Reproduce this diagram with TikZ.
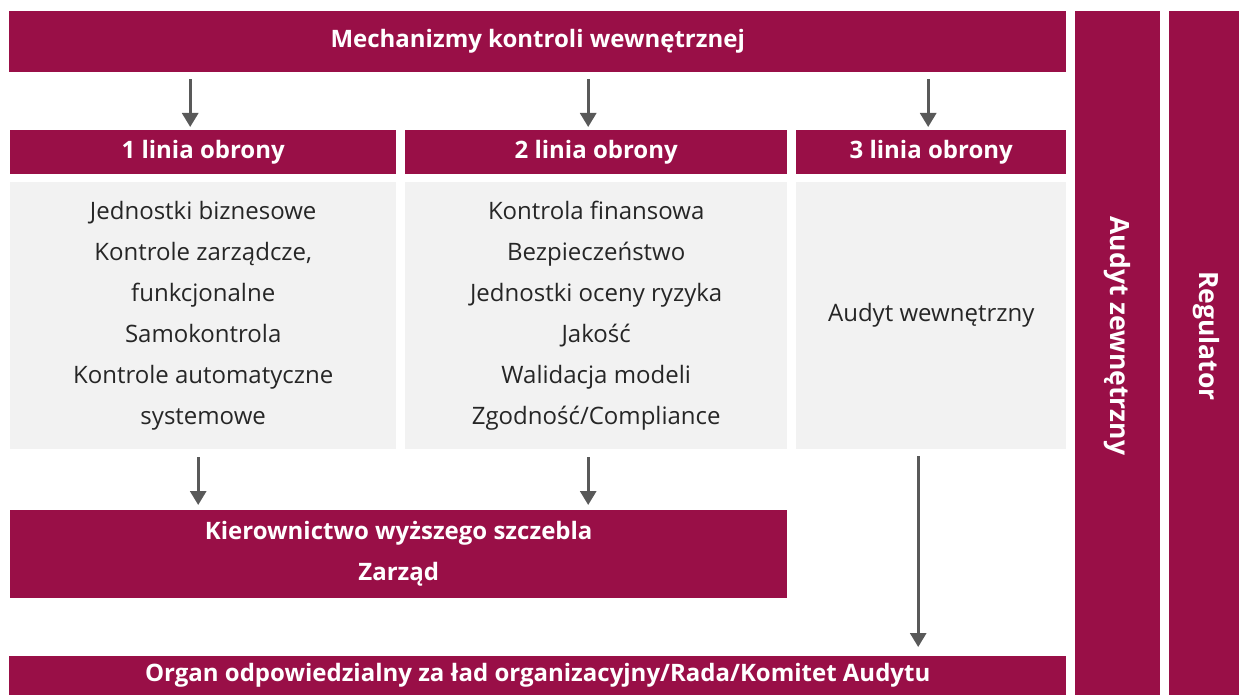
\documentclass[tikz,border=0pt]{standalone}
\usepackage{fontspec}
\setmainfont{Open Sans}
\usetikzlibrary{arrows.meta}
\definecolor{wine}{HTML}{990F47}
\definecolor{boxgray}{HTML}{F2F2F2}
\definecolor{arrgray}{HTML}{595959}
\definecolor{txt}{HTML}{262626}
\tikzset{
  bar/.style={fill=wine, draw=none, text=white, font=\fontsize{24}{41}\selectfont\bfseries, inner sep=0pt, anchor=north west, align=center},
  graybox/.style={fill=boxgray, draw=none, text=txt, font=\fontsize{24}{41}\selectfont, inner sep=0pt, anchor=north west, align=center},
  vtext/.style={text=white, font=\fontsize{26.5}{30}\selectfont\bfseries, rotate=-90},
  arr/.style={draw=arrgray, line width=3pt, -{Triangle[width=16pt,length=14pt]}},
}
\begin{document}
\begin{tikzpicture}[x=1pt,y=-1pt]
\useasboundingbox (0,0) rectangle (1239,695);
% top bar
\node[bar, minimum width=1057pt, minimum height=61pt] (top) at (9,11) {Mechanizmy kontroli wewnętrznej};
% right columns
\node[bar, minimum width=85pt, minimum height=684pt] (ext) at (1075,11) {};
\node[bar, minimum width=70pt, minimum height=684pt] (reg) at (1169,11) {};
\node[vtext] (extt) at (1117,336) {Audyt zewnętrzny};
\node[vtext] (regt) at (1206,336) {Regulator};
% headers
\node[bar, minimum width=386pt, minimum height=44pt] (h1) at (10,130) {1 linia obrony};
\node[bar, minimum width=382pt, minimum height=44pt] (h2) at (405,130) {2 linia obrony};
\node[bar, minimum width=270pt, minimum height=44pt] (h3) at (796,130) {3 linia obrony};
% gray boxes
\node[graybox, minimum width=386pt, minimum height=267pt] (g1) at (10,182) {Jednostki biznesowe\\Kontrole zarządcze,\\funkcjonalne\\Samokontrola\\Kontrole automatyczne\\systemowe};
\node[graybox, minimum width=382pt, minimum height=267pt] (g2) at (405,182) {Kontrola finansowa\\Bezpieczeństwo\\Jednostki oceny ryzyka\\Jakość\\Walidacja modeli\\Zgodność/Compliance};
\node[graybox, minimum width=270pt, minimum height=267pt] (g3) at (796,182) {Audyt wewnętrzny};
% management
\node[bar, minimum width=777pt, minimum height=88pt] (kz) at (10,510) {Kierownictwo wyższego szczebla\\Zarząd};
% board
\node[bar, minimum width=1057pt, minimum height=39pt] (org) at (9,656) {Organ odpowiedzialny za ład organizacyjny/Rada/Komitet Audytu};
% arrows
\draw[arr] ([xshift=-13pt,yshift=-7pt]h1.north |- top.south) -- ([xshift=-13pt,yshift=3pt]h1.north);
\draw[arr] ([xshift=-8pt,yshift=-7pt]h2.north |- top.south) -- ([xshift=-8pt,yshift=3pt]h2.north);
\draw[arr] ([xshift=-3pt,yshift=-7pt]h3.north |- top.south) -- ([xshift=-3pt,yshift=3pt]h3.north);
\draw[arr] ([xshift=-5pt,yshift=-8pt]g1.south) -- ([xshift=-5pt,yshift=5pt]g1.south |- kz.north);
\draw[arr] ([xshift=-8pt,yshift=-8pt]g2.south) -- ([xshift=-8pt,yshift=5pt]g2.south |- kz.north);
\draw[arr] ([xshift=-13pt,yshift=-7pt]g3.south) -- ([xshift=-13pt,yshift=9pt]g3.south |- org.north);
\end{tikzpicture}
\end{document}
